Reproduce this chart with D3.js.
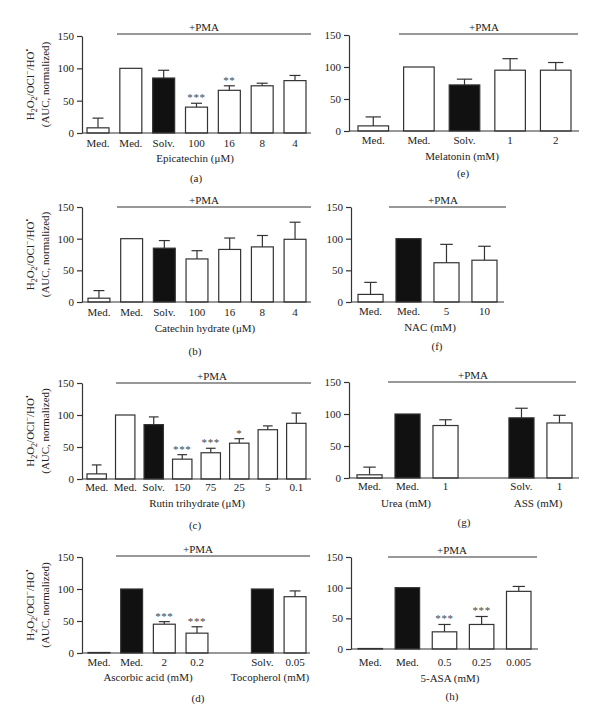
<!DOCTYPE html>
<html>
<head>
<meta charset="utf-8">
<script src="https://cdn.jsdelivr.net/npm/d3@7"></script>
<style>
body { margin: 0; background: #fff; }
svg { display: block; font-family: "Liberation Serif", "Times New Roman", serif; }
</style>
</head>
<body>
<div id="mainDiv"></div>
<script>
// ---- data ----
var epiCats = ["Med.", "Med.", "Solv.", "100", "16", "8", "4"];
var epiVals = [8, 100, 85, 40, 66, 73, 81];
var epiErr  = [15, 0, 12, 6, 7, 4, 8];
var epiSig  = ["", "", "", "***", "**", "", ""];
var epiDark = [0, 0, 1, 0, 0, 0, 0];

var melCats = ["Med.", "Med.", "Solv.", "1", "2"];
var melVals = [8, 100, 72, 95, 95];
var melErr  = [14, 0, 9, 18, 12];
var melDark = [0, 0, 1, 0, 0];

var catCats = ["Med.", "Med.", "Solv.", "100", "16", "8", "4"];
var catVals = [6, 100, 85, 68, 83, 87, 99];
var catErr  = [12, 0, 12, 13, 18, 18, 27];
var catDark = [0, 0, 1, 0, 0, 0, 0];

var nacCats = ["Med.", "Med.", "5", "10"];
var nacVals = [12, 100, 62, 66];
var nacErr  = [19, 0, 29, 22];
var nacDark = [0, 1, 0, 0];

var rutCats = ["Med.", "Med.", "Solv.", "150", "75", "25", "5", "0.1"];
var rutVals = [8, 100, 85, 31, 41, 56, 77, 87];
var rutErr  = [14, 0, 12, 7, 7, 7, 6, 16];
var rutSig  = ["", "", "", "***", "***", "*", "", ""];
var rutDark = [0, 0, 1, 0, 0, 0, 0, 0];

var ureaCats = ["Med.", "Med.", "1", "", "Solv.", "1"];
var ureaVals = [5, 100, 82, null, 94, 86];
var ureaErr  = [12, 0, 9, null, 15, 12];
var ureaDark = [0, 1, 0, 0, 1, 0];

var ascCats = ["Med.", "Med.", "2", "0.2", "", "Solv.", "0.05"];
var ascVals = [0.8, 100, 45, 31, null, 100, 88];
var ascErr  = [0, 0, 4, 10, null, 0, 9];
var ascSig  = ["", "", "***", "***", "", "", ""];
var ascDark = [0, 1, 0, 0, 0, 1, 0];

var asaCats = ["Med.", "Med.", "0.5", "0.25", "0.005"];
var asaVals = [0.8, 100, 28, 40, 94];
var asaErr  = [0, 0, 12, 13, 8];
var asaSig  = ["", "", "***", "***", ""];
var asaDark = [0, 1, 0, 0, 0];

var yTicks = [0, 50, 100, 150];

var ink = "#333";
var svg = d3.select("#mainDiv").append("svg")
    .attr("width", 600)
    .attr("height", 727);

function drawYTitle(p) {
    var cy = (p.top + p.bottom) / 2;
    var t1 = svg.append("text")
        .attr("transform", "translate(34," + cy + ") rotate(-90)")
        .attr("text-anchor", "middle")
        .attr("font-size", "11px")
        .attr("fill", "#222");
    t1.append("tspan").text("H");
    t1.append("tspan").attr("dy", 3).attr("font-size", "8px").text("2");
    t1.append("tspan").attr("dy", -3).text("O");
    t1.append("tspan").attr("dy", 3).attr("font-size", "8px").text("2");
    t1.append("tspan").attr("dy", -3).text("/OCl");
    t1.append("tspan").attr("dy", -4).attr("font-size", "8px").text("\u2212");
    t1.append("tspan").attr("dy", 4).text("/HO");
    t1.append("tspan").attr("dy", -4).attr("font-size", "8px").text("\u2022");
    svg.append("text")
        .attr("transform", "translate(49," + cy + ") rotate(-90)")
        .attr("text-anchor", "middle")
        .attr("font-size", "11px")
        .attr("fill", "#222")
        .text("(AUC, normalized)");
}

function drawPanel(p) {
    var y = d3.scaleLinear().domain([0, 150]).range([p.bottom, p.top]);
    var x = d3.scaleBand()
        .domain(d3.range(p.cats.length))
        .range([p.bar0, p.bar1])
        .paddingInner(p.pad)
        .paddingOuter(0);
    var bw = x.bandwidth();
    var g = svg.append("g");

    // y axis
    var ya = g.append("g")
        .attr("transform", "translate(" + p.axisX + ",0)")
        .call(d3.axisLeft(y).tickValues(yTicks).tickSize(5).tickPadding(3).tickSizeOuter(0));
    ya.select(".domain").attr("stroke", ink).attr("stroke-width", 1.2);
    ya.selectAll(".tick line").attr("stroke", ink).attr("stroke-width", 1.2);
    ya.selectAll(".tick text")
        .attr("font-family", "Liberation Serif, Times New Roman, serif")
        .attr("font-size", "11px")
        .attr("fill", "#222");

    // error bars (upward only)
    p.cats.forEach(function(c, i) {
        var v = p.vals[i], e = p.err[i];
        if (v === null || !e) return;
        var cx = x(i) + bw / 2;
        g.append("line")
            .attr("x1", cx).attr("x2", cx)
            .attr("y1", y(v)).attr("y2", y(v + e))
            .attr("stroke", ink).attr("stroke-width", 1.2);
        g.append("line")
            .attr("x1", cx - bw / 4).attr("x2", cx + bw / 4)
            .attr("y1", y(v + e)).attr("y2", y(v + e))
            .attr("stroke", ink).attr("stroke-width", 1.2);
    });

    // bars
    p.cats.forEach(function(c, i) {
        var v = p.vals[i];
        if (v === null) return;
        g.append("rect")
            .attr("x", x(i))
            .attr("y", y(v))
            .attr("width", bw)
            .attr("height", Math.max(0.5, y(0) - y(v)))
            .attr("fill", p.dark[i] ? "#111" : "#fff")
            .attr("stroke", ink)
            .attr("stroke-width", 1.2);
    });

    // x axis line
    g.append("line")
        .attr("x1", p.axisX).attr("x2", p.axisEnd)
        .attr("y1", p.bottom).attr("y2", p.bottom)
        .attr("stroke", ink).attr("stroke-width", 1.2);

    // significance stars
    if (p.sig) {
        p.sig.forEach(function(s, i) {
            if (!s) return;
            g.append("text")
                .attr("x", x(i) + bw / 2)
                .attr("y", y(p.vals[i] + p.err[i]) - 2)
                .attr("text-anchor", "middle")
                .attr("font-size", "11px")
                .attr("letter-spacing", "0.6px")
                .attr("fill", "#444")
                .attr("opacity", 0.99)
                .text(s);
        });
    }

    // category labels
    p.cats.forEach(function(c, i) {
        g.append("text")
            .attr("x", x(i) + bw / 2)
            .attr("y", p.labelY)
            .attr("text-anchor", "middle")
            .attr("font-size", "11px")
            .attr("fill", "#222")
            .text(c);
    });

    // +PMA bracket
    g.append("line")
        .attr("x1", p.pma[0]).attr("x2", p.pma[1])
        .attr("y1", p.pmaY).attr("y2", p.pmaY)
        .attr("stroke", ink).attr("stroke-width", 1.2);
    g.append("text")
        .attr("x", p.pmaTextX)
        .attr("y", p.pmaY - 3)
        .attr("text-anchor", "middle")
        .attr("font-size", "11px")
        .attr("fill", "#222")
        .text("+PMA");

    // axis titles
    p.titles.forEach(function(t) {
        g.append("text")
            .attr("x", t.x)
            .attr("y", p.titleY)
            .attr("text-anchor", "middle")
            .attr("font-size", "11px")
            .attr("fill", "#222")
            .text(t.text);
    });

    // panel letter
    g.append("text")
        .attr("x", p.letterX)
        .attr("y", p.letterY)
        .attr("text-anchor", "middle")
        .attr("font-size", "11px")
        .attr("fill", "#222")
        .text(p.letter);

    if (p.yTitle) drawYTitle(p);
}

// (a) Epicatechin
drawPanel({cats: epiCats, vals: epiVals, err: epiErr, sig: epiSig, dark: epiDark,
    top: 36, bottom: 133, axisX: 82, axisEnd: 311, bar0: 87, bar1: 306, pad: 0.33,
    labelY: 147, pma: [117, 311], pmaY: 34, pmaTextX: 204,
    titles: [{text: "Epicatechin (\u03bcM)", x: 195}], titleY: 162,
    letter: "(a)", letterX: 196, letterY: 182, yTitle: true});

// (e) Melatonin
drawPanel({cats: melCats, vals: melVals, err: melErr, dark: melDark,
    top: 35, bottom: 131, axisX: 349, axisEnd: 579, bar0: 358, bar1: 571, pad: 0.33,
    labelY: 144, pma: [399, 578], pmaY: 34, pmaTextX: 484,
    titles: [{text: "Melatonin (mM)", x: 462}], titleY: 160,
    letter: "(e)", letterX: 463, letterY: 177});

// (b) Catechin hydrate
drawPanel({cats: catCats, vals: catVals, err: catErr, dark: catDark,
    top: 207, bottom: 302, axisX: 82, axisEnd: 311, bar0: 88, bar1: 306, pad: 0.33,
    labelY: 316, pma: [117, 311], pmaY: 207, pmaTextX: 204,
    titles: [{text: "Catechin hydrate (\u03bcM)", x: 205}], titleY: 332,
    letter: "(b)", letterX: 195, letterY: 355, yTitle: true});

// (f) NAC
drawPanel({cats: nacCats, vals: nacVals, err: nacErr, dark: nacDark,
    top: 207, bottom: 302, axisX: 351, axisEnd: 504, bar0: 358, bar1: 497, pad: 0.34,
    labelY: 315, pma: [389, 506], pmaY: 207, pmaTextX: 443,
    titles: [{text: "NAC (mM)", x: 430}], titleY: 331,
    letter: "(f)", letterX: 437, letterY: 350});

// (c) Rutin trihydrate
drawPanel({cats: rutCats, vals: rutVals, err: rutErr, sig: rutSig, dark: rutDark,
    top: 383, bottom: 479, axisX: 82, axisEnd: 311, bar0: 87, bar1: 306, pad: 0.32,
    labelY: 491, pma: [116, 311], pmaY: 383, pmaTextX: 212,
    titles: [{text: "Rutin trihydrate (\u03bcM)", x: 197}], titleY: 507,
    letter: "(c)", letterX: 195, letterY: 529, yTitle: true});

// (g) Urea / ASS
drawPanel({cats: ureaCats, vals: ureaVals, err: ureaErr, dark: ureaDark,
    top: 382, bottom: 478, axisX: 349, axisEnd: 579, bar0: 357, bar1: 572, pad: 0.34,
    labelY: 490, pma: [388, 576], pmaY: 382, pmaTextX: 473,
    titles: [{text: "Urea (mM)", x: 406}, {text: "ASS (mM)", x: 538}], titleY: 507,
    letter: "(g)", letterX: 464, letterY: 526});

// (d) Ascorbic acid / Tocopherol
drawPanel({cats: ascCats, vals: ascVals, err: ascErr, sig: ascSig, dark: ascDark,
    top: 557, bottom: 653, axisX: 82, axisEnd: 310, bar0: 88, bar1: 306, pad: 0.33,
    labelY: 666, pma: [116, 310], pmaY: 556, pmaTextX: 198,
    titles: [{text: "Ascorbic acid (mM)", x: 148}, {text: "Tocopherol (mM)", x: 270}], titleY: 681,
    letter: "(d)", letterX: 198, letterY: 702, yTitle: true});

// (h) 5-ASA
drawPanel({cats: asaCats, vals: asaVals, err: asaErr, sig: asaSig, dark: asaDark,
    top: 557, bottom: 649, axisX: 351, axisEnd: 538, bar0: 358, bar1: 531, pad: 0.34,
    labelY: 666, pma: [388, 537], pmaY: 557, pmaTextX: 452,
    titles: [{text: "5-ASA (mM)", x: 450}], titleY: 682,
    letter: "(h)", letterX: 452, letterY: 700});
</script>
</body>
</html>
